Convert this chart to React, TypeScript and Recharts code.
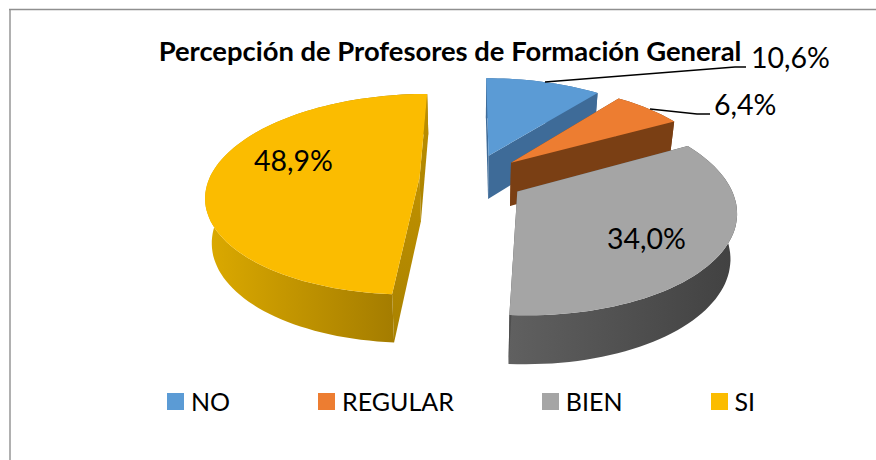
import { PieChart, Pie, Legend } from "recharts";

const categories = ["NO", "REGULAR", "BIEN", "SI"];
const counts = [5, 3, 16, 23];
const topColors = ["#5b9bd5", "#ed7d31", "#a5a5a5", "#fbbc00"];
const wallColors = ["#3e6b98", "#7a3f14", "#4e4e4e", "#bf9000"];
const rimLeft = ["#3e6b98", "#7a3f14", "#606060", "#dcaa00"];
const rimRight = ["#3e6b98", "#7a3f14", "#414141", "#9a7400"];

const tableData = categories.map((name, i) => ({ name, value: counts[i], fill: topColors[i] }));

// fake 3D: each slice is pushed out along its bisector and the disc goes through a small perspective
const TILT = 0.465;
const PERSPECTIVE = 0.17;
const EXPLODE = 0.25;
const DEPTH = 44;
const DEPTH_SCALE = 0.975;

// label text anchors and leader lines, in pixels
const labelSpots = [
  { x: 751, y: 68, line: "M545 82L735 67L746 67" },
  { x: 714, y: 115, line: "M650 109L697 114L710 114" },
  { x: 607, y: 249, line: "" },
  { x: 254, y: 171, line: "" },
];

function Slice3D(props: any) {
  const { cx, cy, outerRadius, startAngle, endAngle, index } = props;
  const a0 = 90 - startAngle;
  const a1 = 90 - endAngle;
  const mid = ((a0 + a1) / 2) * (Math.PI / 180);
  const ex = Math.sin(mid) * EXPLODE;
  const ey = -Math.cos(mid) * EXPLODE;

  // theta in degrees clockwise from 12 o'clock, r in disc radii
  const top = (deg: number, r: number) => {
    const t = (deg * Math.PI) / 180;
    const X = ex + r * Math.sin(t);
    const Y = ey - r * Math.cos(t);
    const k = 1 / (1 - PERSPECTIVE * Y);
    return { x: cx + outerRadius * X * k, y: cy + outerRadius * TILT * Y * k, k };
  };
  const low = (deg: number, r: number) => {
    const p = top(deg, r);
    return { x: cx + (p.x - cx) * DEPTH_SCALE, y: p.y + DEPTH * Math.sqrt(p.k) };
  };
  const pt = (p: { x: number; y: number }) => `${p.x.toFixed(1)} ${p.y.toFixed(1)}`;

  const steps = Math.max(2, Math.ceil((a1 - a0) / 2));
  const angles = Array.from({ length: steps + 1 }, (_, i) => a0 + ((a1 - a0) * i) / steps);

  const topPath = `M${pt(top(a0, 0))}L` + angles.map((d) => pt(top(d, 1))).join("L") + "Z";
  const rimPath =
    "M" + angles.map((d) => pt(top(d, 1))).join("L") + "L" + [...angles].reverse().map((d) => pt(low(d, 1))).join("L") + "Z";
  const wall = (deg: number) =>
    `M${pt(top(deg, 0))}L${pt(top(deg, 1))}L${pt(low(deg, 1))}L${pt(low(deg, 0))}Z`;
  const gradId = `rim-${index}`;
  const wallId = `wall-${index}`;

  return (
    <g>
      <defs>
        <linearGradient id={gradId} x1="0" x2="1" y1="0" y2="0">
          <stop offset="0" stopColor={rimLeft[index]} />
          <stop offset="1" stopColor={rimRight[index]} />
        </linearGradient>
        <linearGradient id={wallId} x1="0" x2="0" y1="0" y2="1">
          <stop offset="0" stopColor={wallColors[index]} />
          <stop offset="1" stopColor={index === 3 ? "#a98200" : wallColors[index]} />
        </linearGradient>
      </defs>
      <path d={wall(a0)} fill={`url(#${wallId})`} />
      <path d={rimPath} fill={`url(#${gradId})`} />
      <path d={wall(a1)} fill={`url(#${wallId})`} />
      <path d={topPath} fill={topColors[index]} />
    </g>
  );
}

function PercentLabel(props: any) {
  const spot = labelSpots[props.index];
  const text = (props.percent * 100).toFixed(1).replace(".", ",") + "%";
  return (
    <g>
      {spot.line && <path d={spot.line} fill="none" stroke="#000" strokeWidth={1.3} />}
      <text x={spot.x} y={spot.y} fontSize={28.5} fill="#000" fontFamily="Lato, sans-serif">
        {text}
      </text>
    </g>
  );
}

function LegendRow({ payload }: any) {
  return (
    <div style={{ display: "flex", justifyContent: "center", gap: 88, paddingLeft: 46, fontFamily: "Lato, sans-serif", fontSize: 25, color: "#000" }}>
      {(payload || []).map((entry: any) => (
        <div key={entry.value} style={{ display: "flex", alignItems: "center", gap: 7, height: 30 }}>
          <span style={{ width: 17, height: 17, background: entry.color, display: "inline-block" }} />
          <span>{entry.value}</span>
        </div>
      ))}
    </div>
  );
}

export default function App() {
  return (
    <div style={{ position: "absolute", left: 0, top: 0, width: 876, height: 460, background: "#fff" }}>
      <svg width={876} height={460} style={{ position: "absolute", left: 0, top: 0 }}>
        <path d="M10 460V10" fill="none" stroke="#b0b0b0" strokeWidth={2} />
        <path d="M9 9.5H876" fill="none" stroke="#8f8f8f" strokeWidth={1.5} />
      </svg>
      <div style={{ position: "absolute", left: 0, top: 0 }}>
        <PieChart width={876} height={460} margin={{ top: 0, right: 0, bottom: 0, left: 0 }}>
          <text x={450} y={61} textAnchor="middle" fontSize={27.4} fontWeight={700} fill="#000" fontFamily="Lato, sans-serif">
            Percepción de Profesores de Formación General
          </text>
          <Pie
            data={tableData}
            dataKey="value"
            nameKey="name"
            cx={472}
            cy={178}
            innerRadius={0}
            outerRadius={210}
            startAngle={90}
            endAngle={-270}
            stroke="none"
            shape={Slice3D}
            label={PercentLabel}
            labelLine={false}
            isAnimationActive={false}
          />
          <Legend content={LegendRow} itemSorter={null} wrapperStyle={{ left: 0, top: 386, width: 876 }} />
        </PieChart>
      </div>
    </div>
  );
}
